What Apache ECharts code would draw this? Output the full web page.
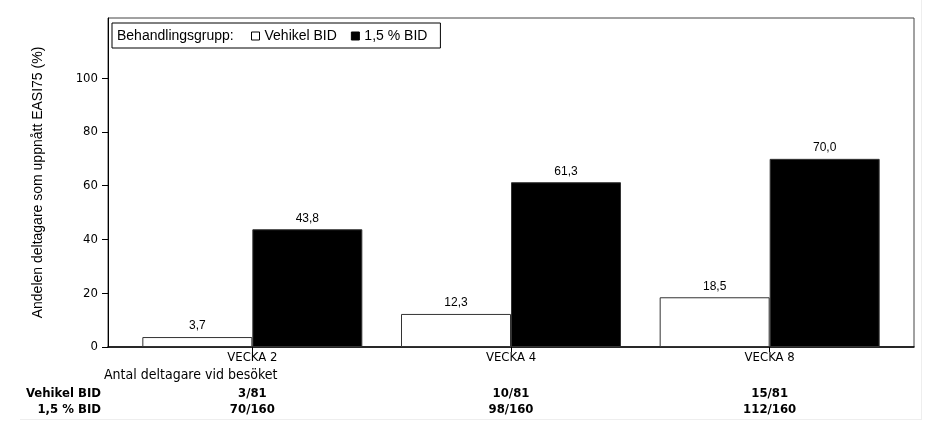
<!DOCTYPE html>
<html>
<head>
<meta charset="utf-8">
<script src="https://cdn.jsdelivr.net/npm/echarts@6/dist/echarts.min.js"></script>
<style>
  html, body { margin: 0; padding: 0; background: #fff; }
  #chart { width: 925px; height: 421px; }
</style>
</head>
<body>
<div id="chart"></div>
<script>
const categories = ['VECKA 2', 'VECKA 4', 'VECKA 8'];
const vehikel = [3.7, 12.3, 18.5];
const bid15 = [43.8, 61.3, 70.0];
const nVehikel = ['3/81', '10/81', '15/81'];
const nBid15 = ['70/160', '98/160', '112/160'];
const yTicks = [0, 20, 40, 60, 80, 100];
const seriesNames = ['Vehikel BID', '1,5 % BID'];

const narrow = '"DejaVu Sans Condensed", "Liberation Sans", sans-serif';
const arial = '"Liberation Sans", Arial, sans-serif';

function comma(v) {
    return v.toFixed(1).replace('.', ',');
}

function countAxis(labels, offset) {
    return {
        type: 'category',
        gridIndex: 0,
        data: categories,
        position: 'bottom',
        offset: offset,
        axisLine: {show: false},
        axisTick: {show: false},
        axisLabel: {
            margin: 0,
            color: '#000',
            fontFamily: narrow,
            fontWeight: 'bold',
            fontSize: 13,
            formatter: (v, i) => labels[i]
        }
    };
}

function barSeries(name, values, fill) {
    return {
        name: name,
        type: 'bar',
        xAxisIndex: 0,
        yAxisIndex: 0,
        data: values,
        barWidth: 110,
        barGap: '0%',
        itemStyle: {color: fill, borderColor: '#333', borderWidth: 1},
        label: {
            show: true,
            position: 'top',
            distance: 5,
            color: '#000',
            fontFamily: arial,
            fontSize: 12,
            formatter: p => comma(p.value)
        }
    };
}

const chart = echarts.init(document.getElementById('chart'));

const option = {
    backgroundColor: '#fff',
    animation: false,
    title: {
        text: 'Behandlingsgrupp:',
        left: 117,
        top: 29,
        padding: 0,
        textStyle: {fontFamily: arial, fontSize: 14, fontWeight: 'normal', color: '#000'}
    },
    legend: {
        data: seriesNames,
        left: 112,
        top: 23,
        padding: [6, 13, 5, 139],
        borderColor: '#000',
        borderWidth: 1,
        icon: 'rect',
        itemWidth: 8,
        itemHeight: 8,
        itemGap: 14,
        itemTextGap: 5,
        itemStyle: {borderColor: '#000', borderWidth: 1},
        textStyle: {fontFamily: arial, fontSize: 14, color: '#000'}
    },
    grid: [
        // bars
        {left: 123, right: 26, top: 18, bottom: 74},
        // frame
        {left: 108, right: 11, top: 18, bottom: 74, show: true, borderColor: '#444', borderWidth: 1, backgroundColor: 'transparent'}
    ],
    xAxis: [
        {
            type: 'category',
            gridIndex: 0,
            data: categories,
            axisLine: {show: false},
            axisTick: {show: true, alignWithLabel: true, length: 5, lineStyle: {color: '#000'}},
            axisLabel: {margin: 4, color: '#000', fontFamily: narrow, fontSize: 13}
        },
        countAxis(nVehikel, 40),
        countAxis(nBid15, 56),
        {
            type: 'value',
            gridIndex: 1,
            axisLine: {show: true, lineStyle: {color: '#000', width: 1.5}},
            axisTick: {show: false},
            axisLabel: {show: false},
            splitLine: {show: false}
        }
    ],
    yAxis: [
        {type: 'value', gridIndex: 0, min: 0, max: 122.4, show: false, splitLine: {show: false}},
        {
            type: 'value',
            gridIndex: 1,
            min: 0,
            max: 122.4,
            name: 'Andelen deltagare som uppnått EASI75 (%)',
            nameLocation: 'middle',
            nameGap: 63,
            nameTextStyle: {fontFamily: arial, fontSize: 14, color: '#000'},
            axisLine: {show: true, lineStyle: {color: '#000'}},
            axisTick: {show: true, length: 6, lineStyle: {color: '#000'}, customValues: yTicks},
            axisLabel: {margin: 10, color: '#000', fontFamily: narrow, fontSize: 13, customValues: yTicks},
            splitLine: {show: false}
        }
    ],
    graphic: [
        {type: 'text', left: 104, top: 368,
            style: {text: 'Antal deltagare vid besöket', font: '14px ' + narrow, fill: '#000'}},
        {type: 'text', right: 824, top: 387,
            style: {text: 'Vehikel BID', font: 'bold 13px ' + narrow, fill: '#000'}},
        {type: 'text', right: 824, top: 403,
            style: {text: '1,5 % BID', font: 'bold 13px ' + narrow, fill: '#000'}},
        // faint outer edge of the original image
        {type: 'rect', left: 20, top: 419, shape: {width: 902, height: 1}, style: {fill: '#eee'}, silent: true},
        {type: 'rect', left: 921, top: 0, shape: {width: 1, height: 420}, style: {fill: '#eee'}, silent: true}
    ],
    series: [
        barSeries(seriesNames[0], vehikel, '#fff'),
        barSeries(seriesNames[1], bid15, '#000')
    ]
};

chart.setOption(option);
</script>
</body>
</html>
